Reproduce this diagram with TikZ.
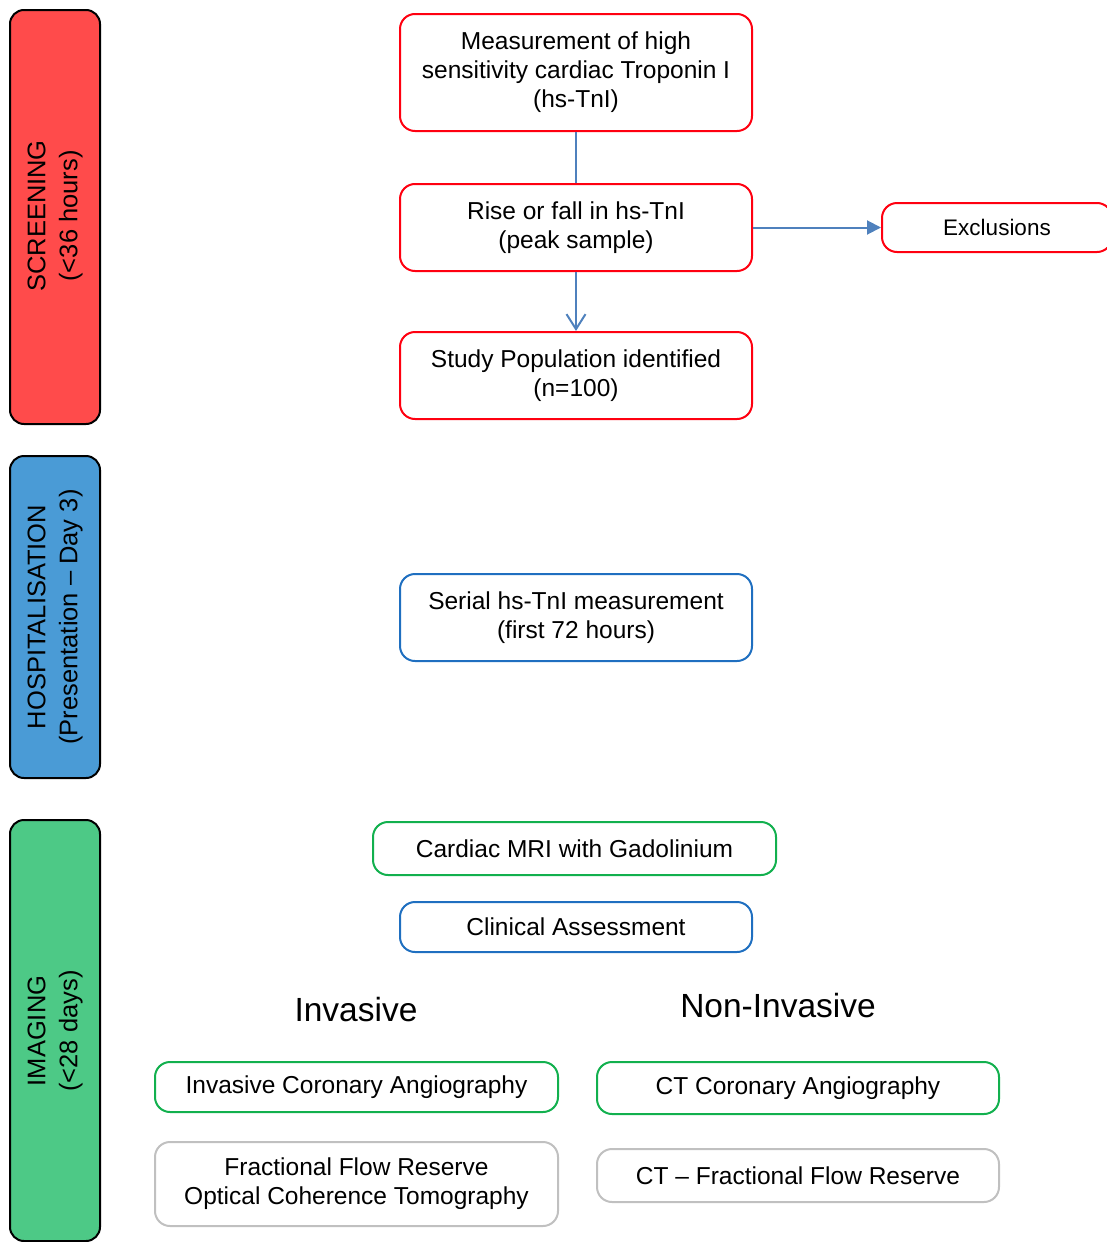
\documentclass[tikz,border=0pt]{standalone}
\usepackage{fontspec}
\setmainfont{Liberation Sans}
\usetikzlibrary{arrows.meta}
\definecolor{bred}{HTML}{FF4B4B}
\definecolor{bblue}{HTML}{4A9BD6}
\definecolor{bgreen}{HTML}{4DC986}
\definecolor{lred}{HTML}{FF0010}
\definecolor{lblue}{HTML}{1F6FC0}
\definecolor{lgreen}{HTML}{12B04E}
\definecolor{lgray}{HTML}{C0C0C0}
\definecolor{conn}{HTML}{4F81BD}
\tikzset{
  band/.style={draw=black, line width=2pt, rounded corners=14pt},
  bandtext/.style={rotate=90, align=center, font=\fontsize{25.5}{32}\selectfont, inner sep=0pt},
  box/.style={rounded corners=15pt, line width=2pt, align=center, inner sep=0pt,
    font=\fontsize{24.5}{29}\selectfont},
  redbox/.style={box, draw=lred},
  bluebox/.style={box, draw=lblue},
  greenbox/.style={box, draw=lgreen},
  graybox/.style={box, draw=lgray},
  conline/.style={draw=conn, line width=2pt},
  head/.style={font=\fontsize{33.5}{38}\selectfont, inner sep=0pt}
}
\begin{document}
\begin{tikzpicture}[x=1pt,y=1pt]
\useasboundingbox (0,0) rectangle (1107,-1242);
\clip (0,0) rectangle (1107,-1242);
% bands
\draw[band, fill=bred] (10,-10) rectangle (100,-424);
\draw[band, fill=bblue] (10,-456) rectangle (100,-778);
\draw[band, fill=bgreen] (10,-820) rectangle (100,-1241);
\node[bandtext] (tscr) at (55,-216) {SCREENING\\(<36 hours)};
\node[bandtext] (thos) at (55,-617) {HOSPITALISATION\\(Presentation -- Day 3)};
\node[bandtext] (timg) at (55,-1031) {IMAGING\\(<28 days)};
% screening boxes
\node[redbox, minimum width=352pt, minimum height=117pt] (meas) at (576,-72.5)
  {Measurement of high\\sensitivity cardiac Troponin I\\(hs-TnI)};
\node[redbox, minimum width=352pt, minimum height=87pt] (rise) at (576,-227.5)
  {Rise or fall in hs-TnI\\(peak sample)};
\node[redbox, minimum width=352pt, minimum height=87pt] (pop) at (576,-375.5)
  {Study Population identified\\(n=100)};
\node[redbox, minimum width=230pt, minimum height=49pt, font=\fontsize{22.5}{27}\selectfont] (excl) at (997,-227.5)
  {Exclusions};
% hospitalisation
\node[bluebox, minimum width=352pt, minimum height=87pt] (serial) at (576,-617.5)
  {Serial hs-TnI measurement\\(first 72 hours)};
% imaging
\node[greenbox, minimum width=403pt, minimum height=53pt] (mri) at (574.5,-848.5)
  {Cardiac MRI with Gadolinium};
\node[bluebox, minimum width=352pt, minimum height=50pt] (clin) at (576,-927)
  {Clinical Assessment};
\node[head] (inv) at (356,-1010) {Invasive};
\node[head] (noninv) at (778,-1006) {Non-Invasive};
\node[greenbox, minimum width=403pt, minimum height=50pt] (ica) at (356.5,-1087)
  {Invasive Coronary Angiography};
\node[greenbox, minimum width=402pt, minimum height=52pt] (ctca) at (798,-1088)
  {CT Coronary Angiography};
\node[graybox, minimum width=403pt, minimum height=84pt] (ffr) at (356.5,-1184)
  {Fractional Flow Reserve\\Optical Coherence Tomography};
\node[graybox, minimum width=402pt, minimum height=53pt] (ctffr) at (798,-1175.5)
  {CT -- Fractional Flow Reserve};
% connectors
\draw[conline] (meas) -- (rise);
\draw[conline, -{Straight Barb[length=15pt,width=19pt,line width=2pt]}] (rise) -- (pop);
\draw[conline, -{Triangle[length=14pt,width=14pt]}] (rise) -- (excl);
\end{tikzpicture}
\end{document}
